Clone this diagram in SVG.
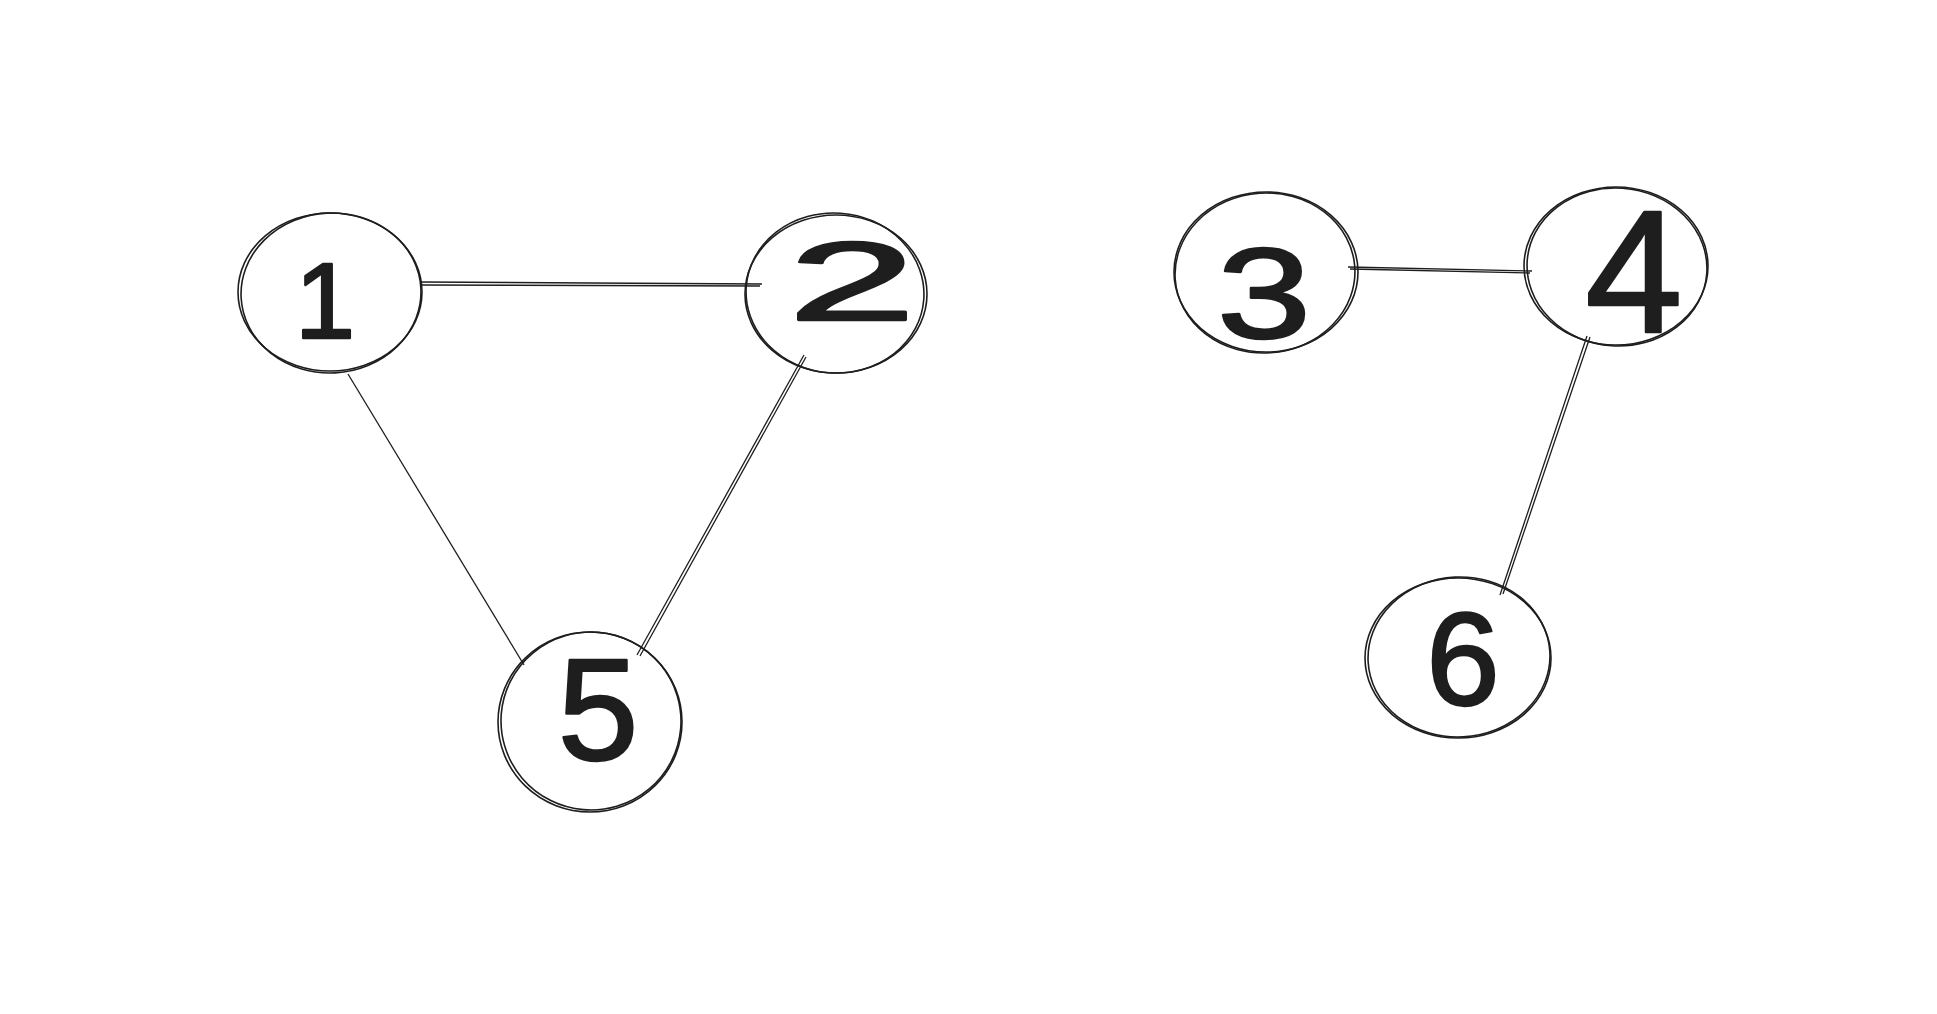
<svg xmlns="http://www.w3.org/2000/svg" width="1937" height="1014" viewBox="0 0 1937 1014">
<style>
.c{fill:none;stroke:#1e1e1e;stroke-width:1.6}
.e{fill:none;stroke:#1e1e1e;stroke-width:1.3}
.t{font-family:"Liberation Sans","DejaVu Sans",sans-serif;fill:#1e1e1e;stroke:#1e1e1e;stroke-width:2.5;stroke-linejoin:round;text-anchor:middle}
</style>
<rect width="1937" height="1014" fill="#ffffff"/>
<g id="connectors">
<path class="e" d="M421 282 L762 284 M421 285 L760 286"/>
<path class="e" d="M348 374 L524 665"/>
<path class="e" d="M804 355 L637 655 M806 357 L640 656"/>
<path class="e" d="M1348 267 L1532 271 M1350 269 L1530 273"/>
<path class="e" d="M1587 336 L1500 595 M1590 337 L1503 594"/>
</g>
<g id="node1">
<ellipse class="c" cx="330" cy="292" rx="92" ry="79"/>
<ellipse class="c" cx="331" cy="293" rx="90" ry="80" transform="rotate(-3 331 293)"/>
<text class="t" x="325" y="338" font-size="108">1</text>
</g>
<g id="node2">
<ellipse class="c" cx="836" cy="294" rx="91" ry="79"/>
<ellipse class="c" cx="835" cy="293" rx="89" ry="80" transform="rotate(4 835 293)"/>
<text class="t" x="852" y="320" font-size="112" textLength="128" lengthAdjust="spacingAndGlyphs">2</text>
</g>
<g id="node5">
<ellipse class="c" cx="590" cy="722" rx="92" ry="90"/>
<ellipse class="c" cx="591" cy="721" rx="90" ry="89" transform="rotate(5 591 721)"/>
<text class="t" x="598" y="760" font-size="145">5</text>
</g>
<g id="node3">
<ellipse class="c" cx="1266" cy="272" rx="92" ry="80"/>
<ellipse class="c" cx="1265" cy="273" rx="90" ry="80" transform="rotate(-4 1265 273)"/>
<text class="t" x="1264" y="338" font-size="128" textLength="94" lengthAdjust="spacingAndGlyphs">3</text>
</g>
<g id="node4">
<ellipse class="c" cx="1616" cy="266" rx="92" ry="79"/>
<ellipse class="c" cx="1617" cy="267" rx="90" ry="79" transform="rotate(4 1617 267)"/>
<text class="t" x="1634" y="332" font-size="175">4</text>
</g>
<g id="node6">
<ellipse class="c" cx="1458" cy="658" rx="93" ry="80"/>
<ellipse class="c" cx="1459" cy="657" rx="91" ry="80" transform="rotate(-3 1459 657)"/>
<text class="t" x="1463" y="705" font-size="132">6</text>
</g>
</svg>
